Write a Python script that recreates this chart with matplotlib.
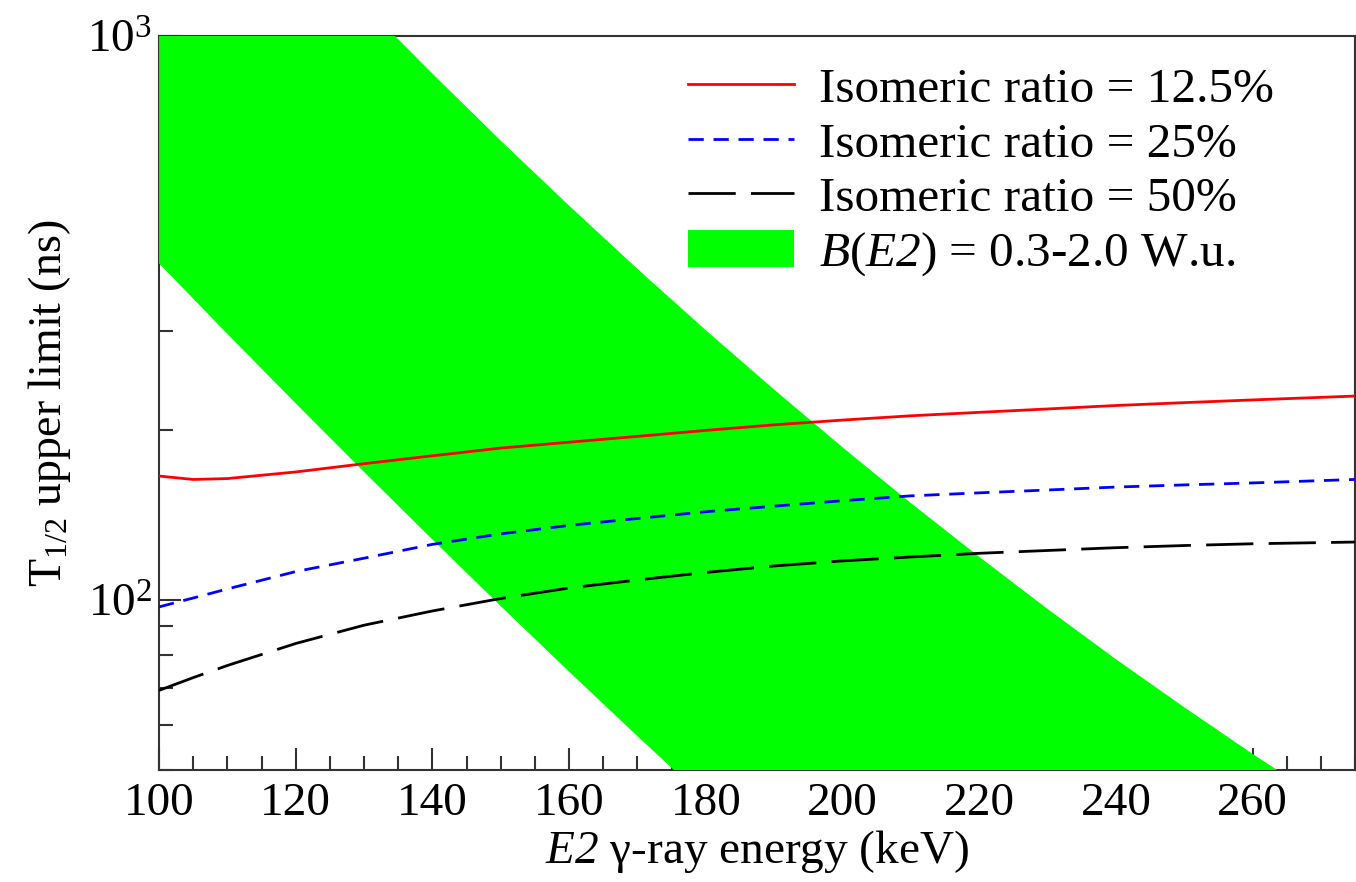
import matplotlib
matplotlib.use("Agg")
import matplotlib.pyplot as plt
from matplotlib.ticker import MultipleLocator, LogLocator, NullFormatter

plt.rcParams['font.family'] = ['Liberation Serif', 'DejaVu Serif']
plt.rcParams['mathtext.fontset'] = 'custom'
plt.rcParams['mathtext.rm'] = 'Liberation Serif'
plt.rcParams['mathtext.it'] = 'Liberation Serif:italic'
plt.rcParams['mathtext.sf'] = 'Liberation Serif:italic'

# gamma-ray energy grid (keV)
energy = [100, 105, 110, 120, 130, 140, 150, 160, 170, 180, 190,
          200, 210, 220, 230, 240, 250, 260, 275]

# T1/2 upper limits (ns) for the three isomeric ratios
t_125 = [166.0, 163.7, 164.3, 168.8, 174.6, 180.3, 186.1, 190.6, 195.2, 200.0,
         204.6, 208.6, 212.3, 215.3, 218.3, 221.4, 224.0, 226.5, 230.1]
t_25 = [97.3, 100.9, 104.7, 112.4, 118.7, 125.6, 131.1, 135.7, 139.6, 143.5,
        146.8, 150.1, 153.1, 155.0, 156.8, 158.7, 160.1, 161.4, 163.7]
t_50 = [69.2, 72.9, 76.6, 83.8, 90.3, 95.7, 100.7, 105.1, 108.6, 112.0,
        115.0, 117.4, 119.3, 121.1, 122.5, 123.9, 125.0, 125.9, 126.8]

# B(E2) = 0.3-2.0 W.u. band edges (ns)
band_e = [100, 110, 120, 130, 140, 150, 160, 170, 180, 190,
          200, 210, 220, 230, 240, 250, 260, 270, 275]
band_hi = [2700, 2000, 1500, 1136, 858, 652.6, 500.6, 386.7, 301.1, 236.3,
           186.7, 148.7, 119.4, 96.5, 78.6, 64.6, 53.4, 44.5, 40.8]
band_lo = [395.4, 296.5, 223.3, 168.8, 128.1, 97.6, 74.7, 57.4, 44.3, 34.3,
           28.0, 22.3, 17.9, 14.5, 11.8, 9.7, 8.0, 6.7, 6.1]

fig = plt.figure(figsize=(13.56, 8.82), dpi=100)
ax = fig.add_axes([0.1173, 0.127, 0.8820, 0.832])
ax.set_axisbelow(True)

ax.fill_between(band_e, band_lo, band_hi, color='#00ff00', lw=0,
                label=r'$\mathsf{B}$($\mathsf{E2}$) = 0.3-2.0 W.u.', zorder=1)
ax.plot(energy, t_125, color='red', lw=2, label='Isomeric ratio = 12.5%', zorder=3)
ax.plot(energy, t_25, color='blue', lw=2, dashes=(5.5, 3.5),
        label='Isomeric ratio = 25%', zorder=3)
ax.plot(energy, t_50, color='black', lw=2, dashes=(17, 5.5),
        label='Isomeric ratio = 50%', zorder=3)

ax.set_yscale('log')
ax.set_xlim(100, 275)
ax.set_ylim(50, 1000)

ax.xaxis.set_major_locator(MultipleLocator(20))
ax.xaxis.set_minor_locator(MultipleLocator(5))
ax.yaxis.set_minor_locator(LogLocator(base=10, subs=range(2, 10)))
ax.yaxis.set_minor_formatter(NullFormatter())

ax.tick_params(which='both', direction='in', top=False, right=False,
               width=1.5, color='#333333', labelsize=34)
ax.tick_params(which='major', length=16)
ax.tick_params(which='minor', length=10)
ax.tick_params(axis='x', pad=9)
ax.tick_params(axis='y', pad=5)
for sp in ax.spines.values():
    sp.set_color('#333333')
    sp.set_linewidth(1.5)
    sp.set_zorder(0.6)

ax.set_xlabel(r'$\mathsf{E2}$ γ-ray energy (keV)', fontsize=34, labelpad=2)
ax.set_ylabel(r'T$_{1/2}$ upper limit (ns)', fontsize=33, labelpad=10)

h, l = ax.get_legend_handles_labels()
order = [1, 2, 3, 0]
ax.legend([h[i] for i in order], [l[i] for i in order], loc='upper left',
          bbox_to_anchor=(0.4423, 0.959), frameon=False, fontsize=35.5,
          handlelength=2.15, handleheight=0.78, handletextpad=0.5,
          labelspacing=0.18, borderpad=0, borderaxespad=0)

fig.savefig('out.png', dpi=100)
